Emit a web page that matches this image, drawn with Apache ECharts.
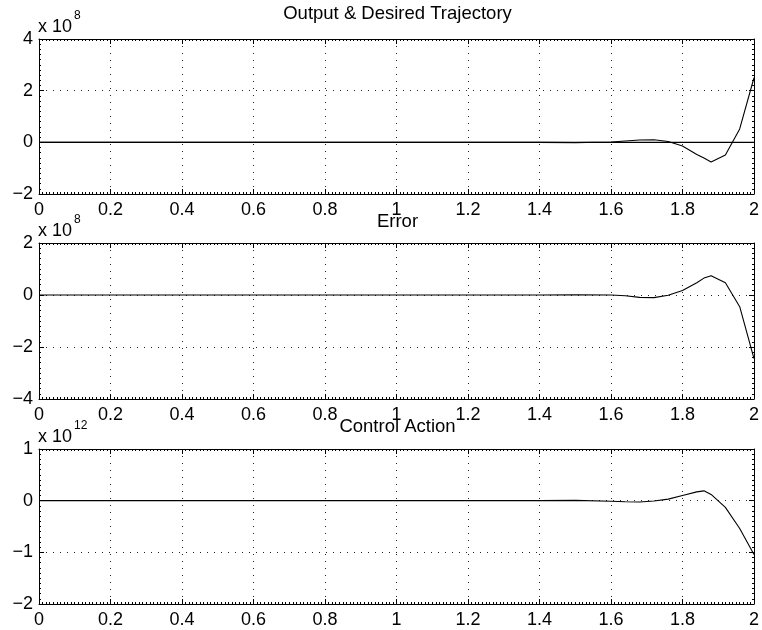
<!DOCTYPE html>
<html>
<head>
<meta charset="utf-8">
<script src="https://cdn.jsdelivr.net/npm/echarts@6/dist/echarts.min.js"></script>
<style>
html,body{margin:0;padding:0;background:#fff;}
#chart{width:762px;height:630px;}
</style>
</head>
<body>
<div id="chart"></div>
<script>
// ---- data ----
var time = [0, 0.2, 0.4, 0.6, 0.8, 1.0, 1.2, 1.4, 1.5, 1.6, 1.64, 1.68, 1.72, 1.76, 1.8, 1.84, 1.86, 1.88, 1.92, 1.96, 2.0];
// Output (x 10^8)
var outputE8  = [0, 0, 0, 0, 0, 0, 0, 0, -0.01, 0.01, 0.05, 0.09, 0.1, 0.03, -0.14, -0.47, -0.61, -0.76, -0.49, 0.52, 2.5];
// Desired trajectory (x 10^8)
var desiredE8 = [0, 0, 0, 0, 0, 0, 0, 0, 0, 0, 0, 0, 0, 0, 0, 0, 0, 0, 0, 0, 0];
// Error (x 10^8)
var errorE8   = [0, 0, 0, 0, 0, 0, 0, 0, 0.01, 0, -0.03, -0.09, -0.1, -0.01, 0.17, 0.47, 0.65, 0.74, 0.47, -0.45, -2.45];
// Control action (x 10^12)
var controlE12 = [0, 0, 0, 0, 0, 0, 0, 0, 0.005, -0.01, -0.02, -0.025, -0.005, 0.03, 0.1, 0.17, 0.19, 0.12, -0.13, -0.54, -1.04];

var titles = ['Output & Desired Trajectory', 'Error', 'Control Action'];
var exponents = ['8', '8', '12'];
var yRanges = [[-2, 4, 2], [-4, 2, 2], [-2, 1, 1]];
var xTicks = [0, 2, 0.2];

// ---- layout ----
var FONT = 'Liberation Sans, Arial, Helvetica, sans-serif';
var grids = [
  {left: 39, top: 39, width: 717, height: 155},
  {left: 39, top: 243, width: 717, height: 156},
  {left: 39, top: 449, width: 717, height: 155}
];
var titleY = [14, 222, 427];

function pairs(xs, ys) { return xs.map(function (t, k) { return [t, ys[k]]; }); }
function minusFmt(v) { return String(v).replace('-', '\u2212'); }

var xAxes = [], yAxes = [];
var gridLine = {color: '#222', width: 1, type: [1, 6]};
grids.forEach(function (g, i) {
  var tickStyle = {color: '#000', width: 1};
  xAxes.push({
    gridIndex: i, type: 'value', position: 'bottom',
    min: xTicks[0], max: xTicks[1], interval: xTicks[2],
    axisLine: {show: true, onZero: false, lineStyle: {color: '#000', width: 1}},
    axisTick: {show: true, inside: true, length: 5, lineStyle: tickStyle},
    minorTick: {show: true, splitNumber: 20, length: 2, lineStyle: {color: '#000', width: 1}},
    axisLabel: {margin: 7, fontSize: 18, color: '#000', fontFamily: FONT, formatter: minusFmt},
    splitLine: {show: true, lineStyle: gridLine}
  });
  xAxes.push({
    gridIndex: i, type: 'value', position: 'top',
    min: xTicks[0], max: xTicks[1], interval: xTicks[2],
    axisLine: {show: true, onZero: false, lineStyle: {color: '#000', width: 1}},
    axisTick: {show: true, inside: true, length: 5, lineStyle: tickStyle},
    minorTick: {show: true, splitNumber: 20, length: 2, lineStyle: {color: '#000', width: 1}},
    axisLabel: {show: false},
    splitLine: {show: false}
  });
  var r = yRanges[i];
  yAxes.push({
    gridIndex: i, type: 'value', position: 'left',
    min: r[0], max: r[1], interval: r[2],
    axisLine: {show: true, onZero: false, lineStyle: {color: '#000', width: 1}},
    axisTick: {show: true, inside: true, length: 5, lineStyle: tickStyle},
    minorTick: {show: true, splitNumber: 10, length: 2, lineStyle: {color: '#000', width: 1}},
    axisLabel: {margin: 6, fontSize: 18, color: '#000', fontFamily: FONT, formatter: minusFmt},
    splitLine: {show: true, lineStyle: gridLine}
  });
  yAxes.push({
    gridIndex: i, type: 'value', position: 'right',
    min: r[0], max: r[1], interval: r[2],
    axisLine: {show: true, onZero: false, lineStyle: {color: '#000', width: 1}},
    axisTick: {show: true, inside: true, length: 5, lineStyle: tickStyle},
    minorTick: {show: true, splitNumber: 10, length: 2, lineStyle: {color: '#000', width: 1}},
    axisLabel: {show: false},
    splitLine: {show: false}
  });
});

function lineSeries(name, data, i) {
  return {
    name: name, type: 'line', xAxisIndex: 2 * i, yAxisIndex: 2 * i,
    data: data, symbol: 'none', smooth: false, animation: false,
    lineStyle: {color: '#000', width: 1.1}, z: 5
  };
}

var series = [
  lineSeries('Desired', pairs(time, desiredE8), 0),
  lineSeries('Output', pairs(time, outputE8), 0),
  lineSeries('Error', pairs(time, errorE8), 1),
  lineSeries('Control Action', pairs(time, controlE12), 2)
];

var graphics = [];
grids.forEach(function (g, i) {
  graphics.push({
    type: 'text',
    style: {text: titles[i], x: g.left + g.width / 2, y: titleY[i], align: 'center', verticalAlign: 'middle',
            font: '18.5px ' + FONT, fill: '#000'}
  });
  graphics.push({
    type: 'text',
    style: {text: 'x 10', x: 38, y: g.top - 12, align: 'left', verticalAlign: 'middle',
            font: '18px ' + FONT, fill: '#000'}
  });
  graphics.push({
    type: 'text',
    style: {text: exponents[i], x: 74, y: g.top - 23, align: 'left', verticalAlign: 'middle',
            font: '12px ' + FONT, fill: '#000'}
  });
});

var chart = echarts.init(document.getElementById('chart'), null, {renderer: 'canvas'});
chart.setOption({
  animation: false,
  backgroundColor: '#fff',
  grid: grids,
  xAxis: xAxes,
  yAxis: yAxes,
  series: series,
  graphic: graphics
});
</script>
</body>
</html>
